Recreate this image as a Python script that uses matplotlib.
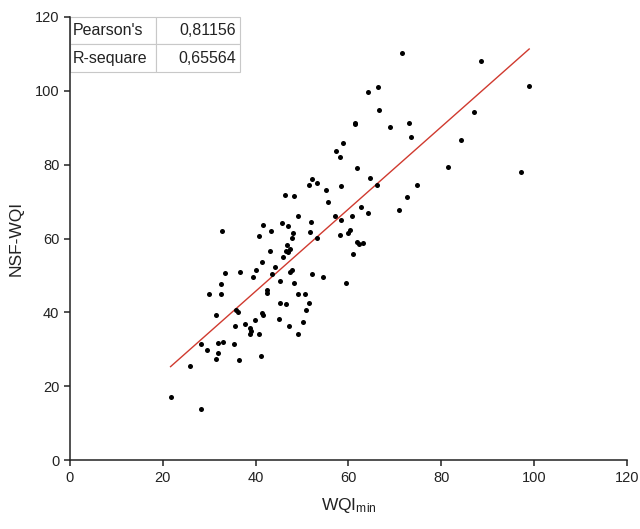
import matplotlib
matplotlib.use('Agg')
import matplotlib.pyplot as plt
import numpy as np

plt.rcParams['font.family'] = ['Liberation Sans', 'DejaVu Sans']
plt.rcParams['mathtext.fontset'] = 'custom'
plt.rcParams['mathtext.rm'] = 'Liberation Sans'
plt.rcParams['mathtext.it'] = 'Liberation Sans:italic'

# Data
wqi_min = [21.7, 28.2, 25.9, 28.2, 29.6, 32.0, 31.5, 32.0, 33.0, 35.4,
           36.4, 41.1, 35.6, 37.7, 38.9, 39.0, 38.8, 40.8, 39.9, 45.0,
           47.3, 49.1, 50.3, 31.5, 35.7, 36.3, 41.3, 41.7, 50.9, 45.3,
           46.5, 51.6, 29.9, 32.5, 42.4, 42.4, 49.1, 50.6, 32.5, 45.2,
           48.3, 59.5, 39.5, 52.2, 54.5, 43.5, 33.5, 36.7, 40.1, 47.8,
           47.4, 44.2, 41.3, 45.8, 46.8, 47.4, 46.6, 47.0, 43.0, 60.9,
           61.9, 62.3, 63.1, 40.8, 47.8, 53.2, 58.1, 60.0, 60.4, 32.7,
           43.3, 48.1, 51.7, 41.7, 45.6, 46.9, 52.0, 58.4, 57.0, 60.7,
           49.1, 64.3, 62.8, 70.9, 55.5, 72.7, 46.3, 48.3, 55.1, 58.4,
           51.4, 53.3, 52.1, 64.7, 66.2, 74.8, 61.8, 81.4, 97.2, 57.3,
           58.2, 58.9, 73.5, 84.3, 68.9, 61.3, 61.3, 73.1, 87.1, 66.6,
           64.3, 66.4, 98.9, 88.6, 71.6]
nsf_wqi = [17.0, 13.9, 25.6, 31.5, 29.8, 28.9, 27.4, 31.7, 32.1, 31.4,
           27.1, 28.3, 36.4, 36.8, 35.9, 35.0, 34.1, 34.1, 38.0, 38.2,
           36.4, 34.3, 37.5, 39.3, 40.7, 40.1, 39.8, 39.3, 40.6, 42.5,
           42.3, 42.5, 45.0, 45.0, 46.0, 45.2, 45.1, 45.0, 47.8, 48.4,
           48.0, 48.0, 49.7, 50.3, 49.7, 50.4, 50.7, 50.9, 51.5, 51.5,
           50.9, 52.4, 53.7, 55.0, 58.3, 57.2, 56.7, 56.3, 56.7, 55.8,
           59.0, 58.6, 58.8, 60.6, 60.1, 60.1, 61.1, 61.6, 62.3, 62.1,
           62.0, 61.6, 61.9, 63.8, 64.1, 63.5, 64.4, 65.1, 66.0, 66.1,
           66.2, 66.9, 68.6, 67.7, 69.8, 71.2, 71.8, 71.6, 73.2, 74.2,
           74.4, 75.0, 76.0, 76.3, 74.6, 74.6, 79.2, 79.3, 78.0, 83.7,
           82.0, 85.9, 87.5, 86.8, 90.2, 91.4, 90.9, 91.4, 94.3, 94.9,
           99.7, 100.9, 101.2, 108.0, 110.2]
stat_names = ["Pearson's", "R-sequare"]
stat_values = ["0,81156", "0,65564"]
ticks = [0, 20, 40, 60, 80, 100, 120]

x = np.array(wqi_min)
y = np.array(nsf_wqi)

fig = plt.figure(figsize=(6.4, 5.29), dpi=100)
ax = fig.add_axes([0.109, 0.130, 0.871, 0.838])

ax.scatter(x, y, s=13, color='black', zorder=3, linewidths=0)

# linear fit
slope, intercept = np.polyfit(x, y, 1)
xs = np.array([x.min(), x.max()])
ax.plot(xs, slope * xs + intercept, color='#d03a2f', linewidth=1.0, zorder=2)

ax.set_xlim(0, 120)
ax.set_ylim(0, 120)
ax.set_xticks(ticks)
ax.set_yticks(ticks)
ax.tick_params(direction='out', length=4, width=1.1, labelsize=10.5, colors='#222222')
for side in ['top', 'right']:
    ax.spines[side].set_visible(False)
for side in ['left', 'bottom']:
    ax.spines[side].set_linewidth(1.1)
    ax.spines[side].set_color('#222222')

ax.set_xlabel(r'WQI$_{\mathrm{min}}$', fontsize=12.5, color='#222222', labelpad=8)
ax.set_ylabel('NSF-WQI', fontsize=12.5, color='#222222', labelpad=8)

# stats table
tbl = ax.table(cellText=[[n, v] for n, v in zip(stat_names, stat_values)],
               cellLoc='left', colWidths=[0.51, 0.49],
               bbox=[0.0, 0.876, 0.305, 0.124])
tbl.auto_set_font_size(False)
tbl.set_fontsize(11.5)
for (r, c), cell in tbl.get_celld().items():
    cell.set_edgecolor('#c8c8c8')
    cell.set_linewidth(0.8)
    cell.set_facecolor('white')
    cell.get_text().set_color('#222222')
    if c == 1:
        cell.get_text().set_horizontalalignment('right')
        cell.PAD = 0.04
    else:
        cell.PAD = 0.03

fig.savefig('out.png', dpi=100)
